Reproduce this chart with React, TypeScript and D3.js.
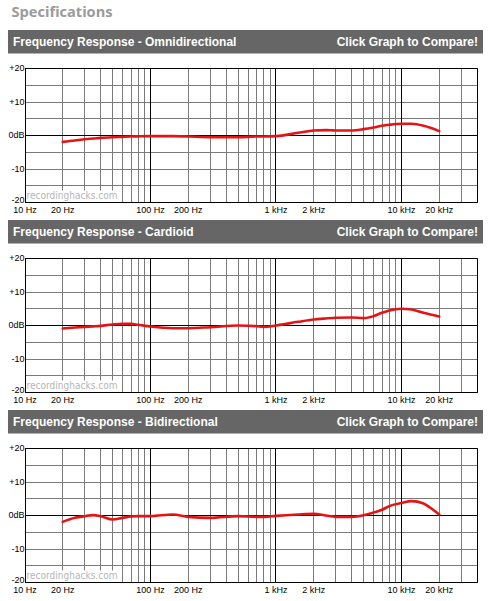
import React from "react";
import * as d3 from "d3";

// frequency points (Hz)
const FREQS = [20, 25, 30, 35, 40, 50, 60, 70, 80, 100, 150, 200, 300, 500, 700, 800, 1000, 1500, 2000, 2500, 3000, 4000, 5000, 6000, 7000, 8000, 10000, 12000, 15000, 17000, 20000];

const OMNI_DB = [-1.9, -1.5, -1.1, -0.9, -0.7, -0.5, -0.4, -0.3, -0.25, -0.2, -0.2, -0.3, -0.5, -0.5, -0.3, -0.3, -0.2, 0.8, 1.5, 1.6, 1.5, 1.5, 1.9, 2.4, 2.9, 3.2, 3.5, 3.5, 2.9, 2.3, 1.3];
const CARDIOID_DB = [-0.9, -0.6, -0.4, -0.25, -0.1, 0.3, 0.5, 0.5, 0.2, -0.3, -0.8, -0.8, -0.5, 0, -0.2, -0.4, 0, 1.1, 1.8, 2.1, 2.3, 2.4, 2.2, 2.8, 3.8, 4.5, 5.0, 4.8, 3.8, 3.3, 2.7];
const BIDIR_DB = [-1.9, -0.7, -0.2, 0.1, -0.2, -1.2, -0.7, -0.3, -0.2, -0.2, 0.3, -0.4, -0.7, -0.2, -0.4, -0.4, -0.1, 0.3, 0.5, 0, -0.4, -0.4, 0.1, 0.9, 1.7, 2.8, 3.7, 4.3, 3.6, 2.3, 0.3];

const PANEL_TITLES = [
  "Frequency Response - Omnidirectional",
  "Frequency Response - Cardioid",
  "Frequency Response - Bidirectional",
];
const PANEL_SERIES = [OMNI_DB, CARDIOID_DB, BIDIR_DB];

const X_TICK_VALUES = [10, 20, 100, 200, 1000, 2000, 10000, 20000];
const X_TICK_LABELS = ["10 Hz", "20 Hz", "100 Hz", "200 Hz", "1 kHz", "2 kHz", "10 kHz", "20 kHz"];
const Y_TICK_VALUES = [20, 10, 0, -10, -20];
const Y_TICK_LABELS = ["+20", "+10", "0dB", "-10", "-20"];

const WIDTH = 500;
const HEIGHT = 601;
const PANEL_STEP = 190;
const PLOT_LEFT = 25;
const PLOT_RIGHT = 477;
const PLOT_TOP = 68.5;
const PLOT_BOTTOM = 202.5;

const LABEL_FONT = "'Liberation Sans', Arial, sans-serif";

// minor + major grid frequencies from 10 Hz to 40 kHz
const gridFreqs: number[] = [];
[10, 100, 1000, 10000].forEach((d) => {
  for (let k = 1; k <= 9; k++) {
    if (d * k <= 40000) gridFreqs.push(d * k);
  }
});
gridFreqs.push(40000);

const Panel: React.FC<{ index: number }> = ({ index }) => {
  const y0 = index * PANEL_STEP;
  const values = PANEL_SERIES[index];

  const x = d3.scaleLog().domain([10, 40000]).range([PLOT_LEFT, PLOT_RIGHT]);
  const y = d3.scaleLinear().domain([-20, 20]).range([PLOT_BOTTOM, PLOT_TOP]);

  const crisp = (v: number) => Math.round(v - 0.5) + 0.5;

  const line = d3
    .line<number>()
    .x((_, i) => x(FREQS[i]))
    .y((d) => y(d))
    .curve(d3.curveMonotoneX);

  const isMajor = (f: number) => f === 10 || f === 100 || f === 1000 || f === 10000 || f === 40000;
  const hLines = d3.range(-20, 21, 5);

  return (
    <g transform={`translate(0,${y0})`}>
      {/* header bar */}
      <rect x={8} y={30} width={475} height={23.5} fill="#666666" />
      <text x={13} y={46} fill="#fff" fontFamily={LABEL_FONT} fontWeight="bold" fontSize={12}>
        {PANEL_TITLES[index]}
      </text>
      <text x={478} y={46} fill="#fff" fontFamily={LABEL_FONT} fontWeight="bold" fontSize={12} textAnchor="end">
        Click Graph to Compare!
      </text>

      {/* plot background */}
      <rect x={PLOT_LEFT} y={PLOT_TOP} width={PLOT_RIGHT - PLOT_LEFT} height={PLOT_BOTTOM - PLOT_TOP} fill="#fff" />

      {/* minor grid */}
      {hLines
        .filter((v) => v !== 0 && Math.abs(v) !== 20)
        .map((v) => (
          <line key={`h${v}`} x1={PLOT_LEFT} x2={PLOT_RIGHT} y1={crisp(y(v))} y2={crisp(y(v))} stroke="#7a7a7a" strokeWidth={1} />
        ))}
      {gridFreqs
        .filter((f) => !isMajor(f))
        .map((f) => (
          <line key={`v${f}`} x1={crisp(x(f))} x2={crisp(x(f))} y1={PLOT_TOP} y2={PLOT_BOTTOM} stroke="#7a7a7a" strokeWidth={1} />
        ))}

      {/* watermark */}
      <rect x={PLOT_LEFT + 0.5} y={190.5} width={95} height={12} fill="#fff" />
      <text
        x={26.5}
        y={199}
        fill="#b5b5b5"
        fontFamily="'DejaVu Sans', Verdana, sans-serif"
        fontSize={10}
        textLength={91}
        lengthAdjust="spacingAndGlyphs"
      >
        recordinghacks.com
      </text>

      {/* major grid */}
      {gridFreqs.filter(isMajor).map((f) => (
        <line key={`m${f}`} x1={crisp(x(f))} x2={crisp(x(f))} y1={PLOT_TOP} y2={PLOT_BOTTOM} stroke="#000" strokeWidth={1} />
      ))}
      {[20, 0, -20].map((v) => (
        <line key={`hm${v}`} x1={PLOT_LEFT} x2={PLOT_RIGHT + 0.5} y1={crisp(y(v))} y2={crisp(y(v))} stroke="#000" strokeWidth={1} />
      ))}

      {/* response curve */}
      <path d={line(values) ?? ""} fill="none" stroke="#e41414" strokeWidth={2.6} strokeLinecap="round" strokeLinejoin="round" />

      {/* y labels */}
      {Y_TICK_VALUES.map((v, i) => (
        <text key={`yl${v}`} x={24.5} y={y(v) + (v === -20 ? 0.8 : 2.5)} textAnchor="end" fontFamily={LABEL_FONT} fontSize={9} fill="#000">
          {Y_TICK_LABELS[i]}
        </text>
      ))}

      {/* x labels */}
      {X_TICK_VALUES.map((f, i) => (
        <text key={`xl${f}`} x={x(f)} y={213} textAnchor="middle" fontFamily={LABEL_FONT} fontSize={9} fill="#000">
          {X_TICK_LABELS[i]}
        </text>
      ))}
    </g>
  );
};

export default function App() {
  return (
    <svg
      width={WIDTH}
      height={HEIGHT}
      viewBox={`0 0 ${WIDTH} ${HEIGHT}`}
      style={{ position: "absolute", left: 0, top: 0, background: "#fff" }}
    >
      <rect width={WIDTH} height={HEIGHT} fill="#fff" />
      <text x={11.5} y={16.5} fill="#9a9a9a" fontFamily="'Open Sans', sans-serif" fontWeight="bold" fontSize={15} textLength={101} lengthAdjust="spacingAndGlyphs">
        Specifications
      </text>
      {[0, 1, 2].map((i) => (
        <Panel key={i} index={i} />
      ))}
    </svg>
  );
}
